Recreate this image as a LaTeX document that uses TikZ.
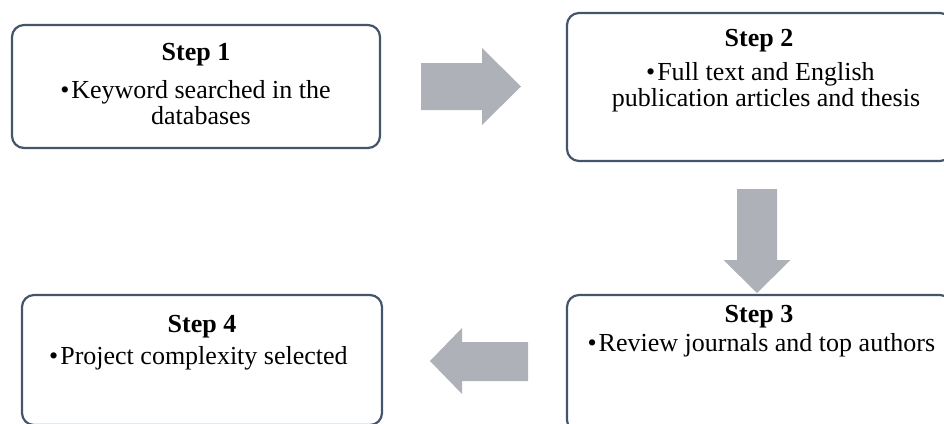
\documentclass[tikz,border=0pt]{standalone}
\usepackage{fontspec}
\setmainfont{Liberation Serif}
\definecolor{boxline}{RGB}{68,84,106}
\definecolor{arrowgray}{RGB}{174,177,184}
\tikzset{
  stepbox/.style={draw=boxline, line width=2.2pt, rounded corners=12pt, inner sep=0pt},
  steptitle/.style={font=\fontsize{26}{26}\selectfont\bfseries, anchor=base, inner sep=0pt},
  steptext/.style={font=\fontsize{26}{26}\selectfont, anchor=north, align=center, inner sep=0pt},
  blockarrow/.style={fill=arrowgray},
}
\newcommand{\stepbullet}{\llap{\textbullet\hspace{2pt}}}
\begin{document}
\begin{tikzpicture}[x=1pt,y=-1pt]
  \useasboundingbox (0,0) rectangle (944,423);
  % boxes
  \node [stepbox, minimum width=368, minimum height=123] (s1) at (196,86.5) {};
  \node [stepbox, minimum width=385, minimum height=148] (s2) at (759.5,87) {};
  \node [stepbox, minimum width=385, minimum height=137] (s3) at (759.5,363.5) {};
  \node [stepbox, minimum width=360, minimum height=130] (s4) at (202,360) {};
  % titles
  \node [steptitle] (t1) at (196,60) {Step 1};
  \node [steptitle] (t2) at (759,46) {Step 2};
  \node [steptitle] (t3) at (759,322) {Step 3};
  \node [steptitle] (t4) at (202,332) {Step 4};
  % bullet texts
  \node [steptext] (b1) at (201,80.2) {\stepbullet Keyword searched in the\\databases};
  \node [steptext] (b2) at (766,62.5) {\stepbullet Full text and English\\publication articles and thesis};
  \node [steptext] (b3) at (767,333.2) {\stepbullet Review journals and top authors};
  \node [steptext] (b4) at (204,346.5) {\stepbullet Project complexity selected};
  % block arrows
  \fill [blockarrow] (421,63) -- (482,63) -- (482,48) -- (521,86.5) -- (482,125) -- (482,110) -- (421,110) -- cycle;
  \fill [blockarrow] (737,189) -- (777,189) -- (777,260) -- (790.5,260) -- (757,293) -- (723.5,260) -- (737,260) -- cycle;
  \fill [blockarrow] (528,342) -- (462,342) -- (462,328) -- (430,361) -- (462,394) -- (462,381) -- (528,381) -- cycle;
\end{tikzpicture}
\end{document}
